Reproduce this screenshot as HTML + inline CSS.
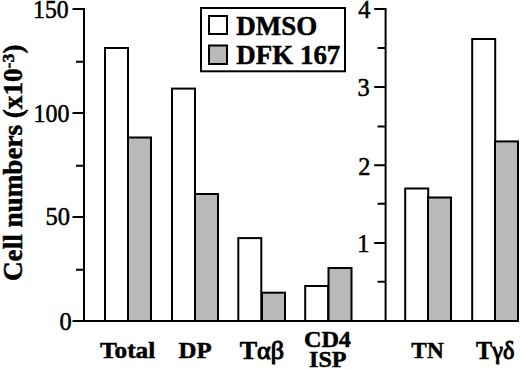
<!DOCTYPE html>
<html>
<head>
<meta charset="utf-8">
<style>
html,body{margin:0;padding:0;background:#fff;}
body{width:520px;height:369px;overflow:hidden;}
svg{display:block;}
text{font-family:"Liberation Serif",serif;fill:#000;}
</style>
</head>
<body>
<svg width="520" height="369" viewBox="0 0 520 369">
<g fill="none" stroke="#000" stroke-width="2">
<path d="M84 8V322"/>
<path d="M72.5 9H84M76 61.8H84M72.5 113H84M76 165.8H84M72.5 217H84M76 269.8H84"/>
<path d="M72.5 321H519"/>
<path d="M385.6 8V322"/>
<path d="M374.2 9H385M377.6 48H385M374.2 87H385M377.6 126.5H385M374.2 165.3H385M377.6 203.8H385M374.2 243H385M377.6 281.8H385"/>
</g>
<g stroke="#000" stroke-width="2">
<rect x="105" y="48" width="23" height="273" fill="#fff"/>
<rect x="128" y="137.5" width="23" height="183.5" fill="#b9b9b9"/>
<rect x="172" y="88.6" width="23" height="232.4" fill="#fff"/>
<rect x="195" y="194" width="23" height="127" fill="#b9b9b9"/>
<rect x="238.3" y="238.1" width="23" height="82.9" fill="#fff"/>
<rect x="262" y="292.7" width="23" height="28.30000000000001" fill="#b9b9b9"/>
<rect x="305.2" y="286" width="23" height="35" fill="#fff"/>
<rect x="328.5" y="268" width="23" height="53" fill="#b9b9b9"/>
<rect x="405.2" y="188.5" width="23" height="132.5" fill="#fff"/>
<rect x="428" y="197.5" width="23" height="123.5" fill="#b9b9b9"/>
<rect x="472.2" y="39" width="23" height="282" fill="#fff"/>
<rect x="495" y="141.4" width="23" height="179.6" fill="#b9b9b9"/>
<rect x="201" y="8" width="144" height="63.3" fill="#fff"/>
<rect x="209" y="16" width="18" height="18" fill="#fff"/>
<rect x="209" y="45.5" width="18" height="18.5" fill="#b9b9b9"/>
</g>
<text transform="translate(33.04,17.62) scale(0.9296,0.9550)" style='font-size:25.5px;stroke:#000;stroke-width:0.55px'>150</text>
<text transform="translate(33.42,121.92) scale(0.9408,0.9550)" style='font-size:25.5px;stroke:#000;stroke-width:0.55px'>100</text>
<text transform="translate(45.50,225.02) scale(0.9617,0.9550)" style='font-size:25.5px;stroke:#000;stroke-width:0.55px'>50</text>
<text transform="translate(59.61,329.72) scale(0.9550,0.9550)" style='font-size:25.5px;stroke:#000;stroke-width:0.55px'>0</text>
<text transform="translate(358.16,17.56) scale(0.9550,0.9550)" style='font-size:25.5px;stroke:#000;stroke-width:0.55px'>4</text>
<text transform="translate(357.54,95.82) scale(0.9550,0.9550)" style='font-size:25.5px;stroke:#000;stroke-width:0.55px'>3</text>
<text transform="translate(358.30,174.56) scale(0.9550,0.9550)" style='font-size:25.5px;stroke:#000;stroke-width:0.55px'>2</text>
<text transform="translate(357.35,251.86) scale(0.9550,0.9550)" style='font-size:25.5px;stroke:#000;stroke-width:0.55px'>1</text>
<text transform="translate(236.35,34.79) scale(0.9994,1.0216)" style='font-size:27px;font-weight:bold;stroke:#000;stroke-width:0.5px'>DMSO</text>
<text transform="translate(236.35,64.00) scale(0.9981,1.0054)" style='font-size:27px;font-weight:bold;stroke:#000;stroke-width:0.5px'>DFK 167</text>
<text transform="translate(99.95,357.92) scale(1.0138,0.9500)" style='font-size:25px;font-weight:bold;stroke:#000;stroke-width:0.5px'>Total</text>
<text transform="translate(178.45,358.36) scale(0.9969,0.9500)" style='font-size:25px;font-weight:bold;stroke:#000;stroke-width:0.5px'>DP</text>
<text transform="translate(239.64,358.79) scale(1.0467,0.9937)" style='font-size:25px;font-weight:bold;stroke:#000;stroke-width:0.5px'>T<tspan style="font-weight:normal;stroke-width:1px">αβ</tspan></text>
<text transform="translate(303.88,347.17) scale(0.9695,0.9500)" style='font-size:25px;font-weight:bold;stroke:#000;stroke-width:0.5px'>CD4</text>
<text transform="translate(309.02,366.67) scale(0.9645,0.9500)" style='font-size:25px;font-weight:bold;stroke:#000;stroke-width:0.5px'>ISP</text>
<text transform="translate(411.37,358.46) scale(0.9304,0.9500)" style='font-size:25px;font-weight:bold;stroke:#000;stroke-width:0.5px'>TN</text>
<text transform="translate(476.06,358.64) scale(0.9703,1.0021)" style='font-size:25px;font-weight:bold;stroke:#000;stroke-width:0.5px'>T<tspan style="font-weight:normal;stroke-width:1px">γδ</tspan></text>
<text transform="translate(22.43,281.01) rotate(-90) scale(0.9696,0.9550)" style='font-size:28px;font-weight:bold;stroke:#000;stroke-width:0.5px'>Cell numbers (x10<tspan style="font-size:18.5px" dy="-9">-3</tspan><tspan dy="9">)</tspan></text>
</svg>
</body>
</html>
